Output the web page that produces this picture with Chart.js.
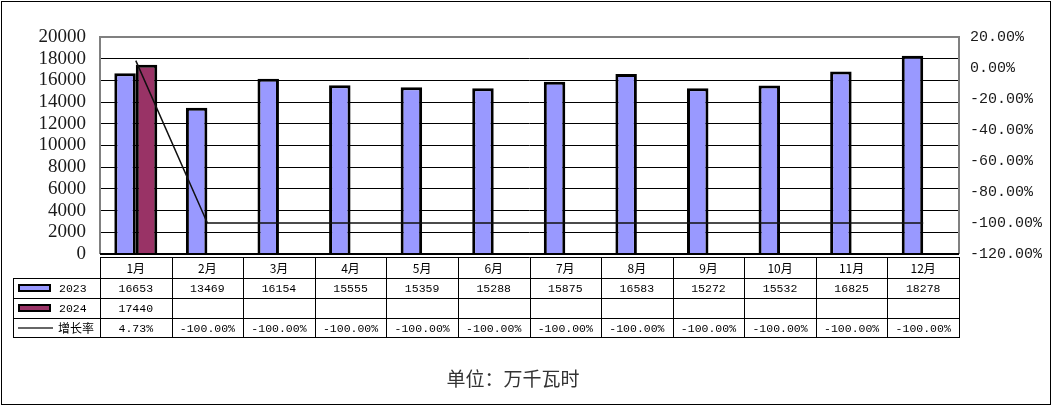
<!DOCTYPE html>
<html>
<head>
<meta charset="UTF-8">
<title>月度用电量</title>
<script src="https://cdn.jsdelivr.net/npm/chart.js"></script>
<style>
  body { margin: 0; background: #fff; }
</style>
</head>
<body>
<canvas id="chart" width="1052" height="406"></canvas>
<script>
// 数据
const months = ['1月', '2月', '3月', '4月', '5月', '6月', '7月', '8月', '9月', '10月', '11月', '12月'];
const data2023 = [16653, 13469, 16154, 15555, 15359, 15288, 15875, 16583, 15272, 15532, 16825, 18278];
const data2024 = [17440, null, null, null, null, null, null, null, null, null, null, null];
const growth = [4.73, -100, -100, -100, -100, -100, -100, -100, -100, -100, -100, -100];
const unitText = '单位：万千瓦时';

const numFont = '11.5px "Liberation Mono", monospace';
const cjkFont = '12px "Noto Sans CJK SC", sans-serif';

// 表格 + 边框
const tablePlugin = {
  id: 'dataTable',
  afterDraw(chart) {
    const ctx = chart.ctx;
    const area = chart.chartArea;
    const xs = chart.scales.x;
    const colW = (area.right - area.left) / months.length;
    const L = 13;
    const rows = [area.bottom + 3, area.bottom + 24, area.bottom + 44, area.bottom + 64, area.bottom + 83];

    ctx.save();
    // plot frame
    ctx.lineWidth = 2;
    ctx.strokeStyle = '#808080';
    ctx.beginPath();
    ctx.moveTo(area.left, area.bottom);
    ctx.lineTo(area.left, area.top);
    ctx.lineTo(area.right, area.top);
    ctx.lineTo(area.right, area.bottom);
    ctx.stroke();
    ctx.strokeStyle = '#000';
    ctx.beginPath();
    ctx.moveTo(area.left, area.bottom);
    ctx.lineTo(area.right, area.bottom);
    ctx.stroke();

    // table grid
    ctx.lineWidth = 1;
    ctx.strokeStyle = '#000';
    ctx.beginPath();
    ctx.moveTo(area.left, rows[0] + 0.5);
    ctx.lineTo(area.right, rows[0] + 0.5);
    for (let r = 1; r < rows.length; r++) {
      ctx.moveTo(L, rows[r] + 0.5);
      ctx.lineTo(area.right, rows[r] + 0.5);
    }
    for (let i = 0; i <= months.length; i++) {
      const x = Math.round(area.left + i * colW) + 0.5;
      ctx.moveTo(x, rows[0]);
      ctx.lineTo(x, rows[4] + 1);
    }
    ctx.moveTo(L + 0.5, rows[1]);
    ctx.lineTo(L + 0.5, rows[4] + 1);
    ctx.stroke();

    // cell texts
    ctx.fillStyle = '#000';
    ctx.textAlign = 'center';
    ctx.textBaseline = 'middle';
    months.forEach((m, i) => {
      const cx = xs.getPixelForTick(i);
      ctx.font = cjkFont;
      ctx.fillText(m, cx, (rows[0] + rows[1]) / 2 + 1);
      ctx.font = numFont;
      ctx.fillText(String(data2023[i]), cx, (rows[1] + rows[2]) / 2 + 1);
      if (data2024[i] !== null) ctx.fillText(String(data2024[i]), cx, (rows[2] + rows[3]) / 2 + 1);
      ctx.fillText(growth[i].toFixed(2) + '%', cx, (rows[3] + rows[4]) / 2 + 1);
    });

    // legend column
    const swatch = (y, color) => {
      ctx.fillStyle = color;
      ctx.fillRect(19, y - 3, 31, 6);
      ctx.lineWidth = 2;
      ctx.strokeStyle = '#000';
      ctx.strokeRect(19, y - 3, 31, 6);
    };
    const y1 = (rows[1] + rows[2]) / 2, y2 = (rows[2] + rows[3]) / 2, y3 = (rows[3] + rows[4]) / 2;
    swatch(y1, '#9999FF');
    swatch(y2, '#993366');
    ctx.strokeStyle = '#333';
    ctx.lineWidth = 1.5;
    ctx.beginPath();
    ctx.moveTo(18, y3 + 0.5);
    ctx.lineTo(53, y3 + 0.5);
    ctx.stroke();
    ctx.fillStyle = '#000';
    ctx.textAlign = 'left';
    ctx.font = numFont;
    ctx.fillText('2023', 59, y1 + 1);
    ctx.fillText('2024', 59, y2 + 1);
    ctx.font = cjkFont;
    ctx.fillText('增长率', 58, y3 + 1);

    // unit text
    ctx.font = '19px "Noto Sans CJK SC", sans-serif';
    ctx.fillStyle = '#333';
    ctx.textAlign = 'center';
    ctx.fillText(unitText, 513, 379);

    // outer border
    ctx.strokeStyle = '#000';
    ctx.lineWidth = 1;
    ctx.strokeRect(1.5, 1.5, 1049, 403);
    ctx.restore();
  }
};

new Chart(document.getElementById('chart'), {
  type: 'bar',
  data: {
    labels: months,
    datasets: [
      {
        type: 'line',
        label: '增长率',
        data: growth,
        yAxisID: 'y1',
        borderColor: '#111',
        borderWidth: 1.5,
        pointRadius: 0,
        tension: 0,
        fill: false,
        order: 0
      },
      {
        label: '2023',
        data: data2023,
        backgroundColor: '#9999FF',
        borderColor: '#000',
        borderWidth: 3,
        order: 1
      },
      {
        label: '2024',
        data: data2024,
        backgroundColor: '#993366',
        borderColor: '#000',
        borderWidth: 3,
        order: 1
      }
    ]
  },
  options: {
    responsive: false,
    animation: false,
    layout: { padding: { left: 0, right: 0, top: 37, bottom: 152 } },
    categoryPercentage: 0.6,
    barPercentage: 1,
    plugins: {
      legend: { display: false },
      tooltip: { enabled: false }
    },
    scales: {
      x: { display: false, offset: true },
      y: {
        min: 0,
        max: 20000,
        afterFit: s => { s.width = 100; },
        border: { display: false },
        grid: { color: '#000', lineWidth: 1, drawTicks: false },
        ticks: {
          stepSize: 2000,
          autoSkip: false,
          padding: 14,
          color: '#1a1a1a',
          font: { family: '"Liberation Serif", serif', size: 19 },
          callback: v => String(v)
        }
      },
      y1: {
        position: 'right',
        min: -120,
        max: 20,
        afterFit: s => { s.width = 93; },
        border: { display: false },
        grid: { drawOnChartArea: false, drawTicks: false },
        ticks: {
          stepSize: 20,
          autoSkip: false,
          padding: 11,
          color: '#1a1a1a',
          font: { family: '"Liberation Mono", monospace', size: 15 },
          callback: v => v.toFixed(2) + '%'
        }
      }
    }
  },
  plugins: [tablePlugin]
});
</script>
</body>
</html>
